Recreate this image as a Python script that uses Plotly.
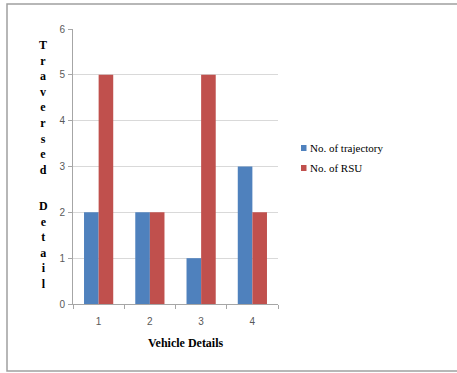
import plotly.graph_objects as go

# Data
vehicles = ["1", "2", "3", "4"]
trajectory = [2, 2, 1, 3]
rsu = [5, 2, 5, 2]
series_names = ["No. of trajectory", "No. of RSU"]
series_colors = ["#4F81BD", "#C0504D"]
y_ticks = [0, 1, 2, 3, 4, 5, 6]

W, H = 457, 373
L, R, T, B = 73, 278, 29, 304  # plot area in pixels


def px(x):
    return (x - L) / (R - L)


def py(y):
    return (B - y) / (B - T)


fig = go.Figure()
for name, vals, col in zip(series_names, [trajectory, rsu], series_colors):
    fig.add_trace(go.Bar(x=vehicles, y=vals, name=name, marker_color=col,
                         marker_line_width=0, showlegend=False))

serif = "Liberation Serif, Times New Roman, serif"
sans = "Liberation Sans, Arial, sans-serif"

shapes = [
    # outer frame
    dict(type="rect", xref="paper", yref="paper",
         x0=px(7), x1=px(470), y0=py(371), y1=py(4),
         line=dict(color="#a0a0a0", width=1.5), fillcolor="rgba(0,0,0,0)", layer="below"),
]
annotations = []

# legend entries
for i, (name, col) in enumerate(zip(series_names, series_colors)):
    cy = 148 + i * 20
    shapes.append(dict(type="rect", xref="paper", yref="paper",
                       x0=px(301), x1=px(306.5), y0=py(cy - 3), y1=py(cy + 3),
                       line=dict(width=0), fillcolor=col))
    annotations.append(dict(text=name, xref="paper", yref="paper",
                            x=px(307.5), y=py(cy), xanchor="left", yanchor="middle",
                            showarrow=False, font=dict(family=serif, size=11, color="#000")))

# vertical y-axis title, one letter per line
for word, cy in [("Traversed", 107), ("Detail", 245)]:
    annotations.append(dict(text="<br>".join(word), xref="paper", yref="paper",
                            x=px(43), y=py(cy), xanchor="center", yanchor="middle",
                            showarrow=False,
                            font=dict(family=serif, size=12, color="#000", weight="bold")))

annotations.append(dict(text="<b>Vehicle Details</b>", xref="paper", yref="paper",
                        x=px(186), y=py(343), xanchor="center", yanchor="middle",
                        showarrow=False, font=dict(family=serif, size=12, color="#000")))

fig.update_layout(
    width=W, height=H,
    margin=dict(l=L, r=W - R, t=T, b=H - B, pad=0),
    paper_bgcolor="white", plot_bgcolor="white",
    barmode="group", bargap=0.43, bargroupgap=0,
    shapes=shapes, annotations=annotations,
    xaxis=dict(showgrid=False, showline=True, linecolor="#a6a6a6", linewidth=1,
               ticks="outside", tickson="boundaries", ticklen=4, tickcolor="#a6a6a6",
               tickfont=dict(family=sans, size=10, color="#595959"), ticklabelstandoff=8),
    yaxis=dict(range=[0, 6], tickvals=y_ticks, showgrid=True, gridcolor="#d9d9d9",
               gridwidth=1, showline=True, linecolor="#a6a6a6", linewidth=1,
               ticks="outside", ticklen=4, tickcolor="#a6a6a6", zeroline=False,
               tickfont=dict(family=sans, size=10, color="#595959"), ticklabelstandoff=1),
)

fig.write_html("out.html")
